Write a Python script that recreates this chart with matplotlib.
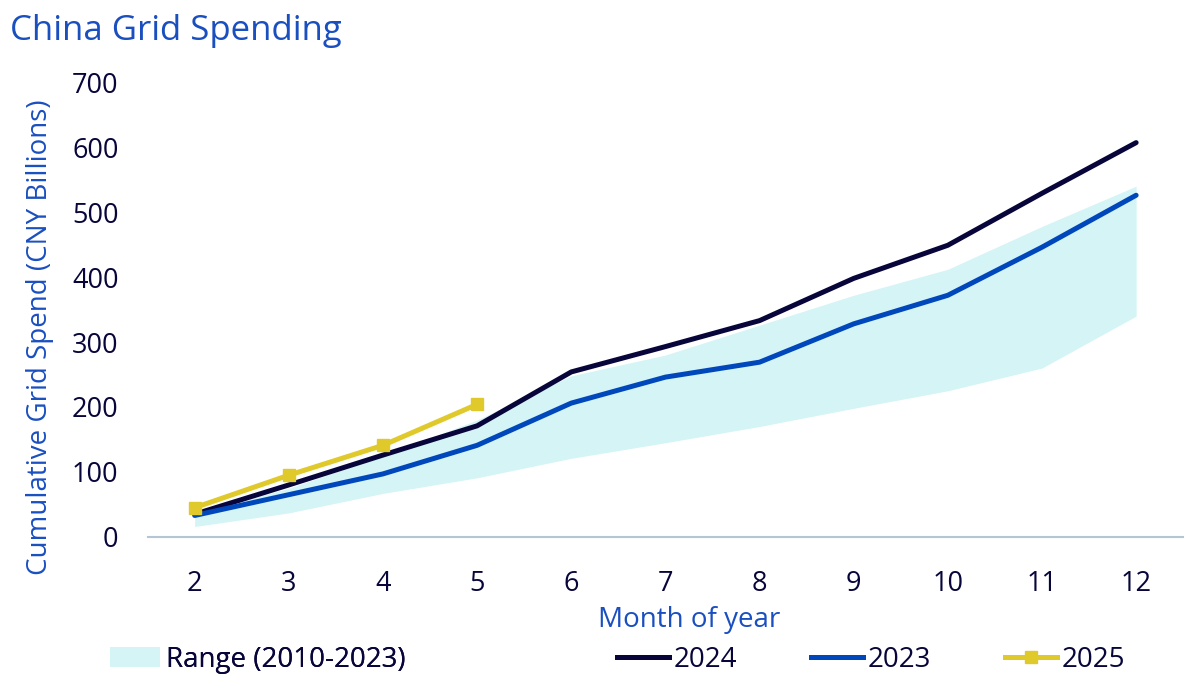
import matplotlib.pyplot as plt
from matplotlib.patches import Patch
from matplotlib.lines import Line2D

plt.rcParams['font.family'] = ['Open Sans', 'DejaVu Sans']

months = [2, 3, 4, 5, 6, 7, 8, 9, 10, 11, 12]
range_low = [16, 37, 67, 91, 121, 145, 170, 198, 225, 260, 340]
range_high = [35, 75, 125, 180, 248, 280, 326, 372, 412, 478, 540]
spend_2024 = [35, 80, 126, 171, 254, 293, 333, 398, 449, 529, 607]
spend_2023 = [33, 65, 97, 141, 206, 246, 269, 328, 372, 446, 526]
months_2025 = [2, 3, 4, 5]
spend_2025 = [45, 95, 141, 204]

navy = '#07053a'
blue = '#0047bb'
yellow = '#e0c92a'
band = '#d4f4f5'
title_blue = '#1a4fc0'

fig = plt.figure(figsize=(12, 6.91), dpi=100)
ax = fig.add_axes([0.123, 0.223, 0.863, 0.658])

ax.fill_between(months, range_low, range_high, color=band, linewidth=0)
ax.plot(months, spend_2024, color=navy, lw=3.6, solid_capstyle='round')
ax.plot(months, spend_2023, color=blue, lw=3.6, solid_capstyle='round')
ax.plot(months_2025, spend_2025, color=yellow, lw=3.6, marker='s', markersize=9)

ax.set_xlim(1.5, 12.5)
ax.set_ylim(0, 700)
ax.set_xticks(months)
ax.set_yticks(range(0, 701, 100))
ax.tick_params(axis='both', length=0, labelsize=19.5, labelcolor=navy)
ax.tick_params(axis='x', pad=24)
ax.tick_params(axis='y', pad=21)
for s in ['top', 'right', 'left']:
    ax.spines[s].set_visible(False)
ax.spines['bottom'].set_color('#b4c6d6')
ax.spines['bottom'].set_linewidth(1.5)

ax.set_xlabel('Month of year', fontsize=20, color=title_blue)
ax.xaxis.set_label_coords(0.523, -0.152)
ax.set_ylabel('Cumulative Grid Spend (CNY Billions)', fontsize=20, color=title_blue)
ax.yaxis.set_label_coords(-0.09, 0.44)
fig.text(0.008, 0.955, 'China Grid Spending', fontsize=25, color=title_blue, va='center')

h_range = [Patch(facecolor=band, edgecolor='none')]
leg1 = fig.legend(h_range, ['Range (2010-2023)'], loc='center left',
                  bbox_to_anchor=(0.071, 0.045), frameon=False, fontsize=20,
                  handlelength=1.8, handleheight=0.7, handletextpad=0.2,
                  labelcolor=navy)
h_lines = [Line2D([], [], color=navy, lw=3.6),
           Line2D([], [], color=blue, lw=3.6),
           Line2D([], [], color=yellow, lw=3.6, marker='s', markersize=9)]
leg2 = fig.legend(h_lines, ['2024', '2023', '2025'], loc='center left',
                  bbox_to_anchor=(0.493, 0.045), ncol=3, frameon=False,
                  fontsize=20, handlelength=1.9, handletextpad=0.15,
                  columnspacing=2.65, labelcolor=navy)
fig.add_artist(leg1)

fig.savefig('out.png', dpi=100)
